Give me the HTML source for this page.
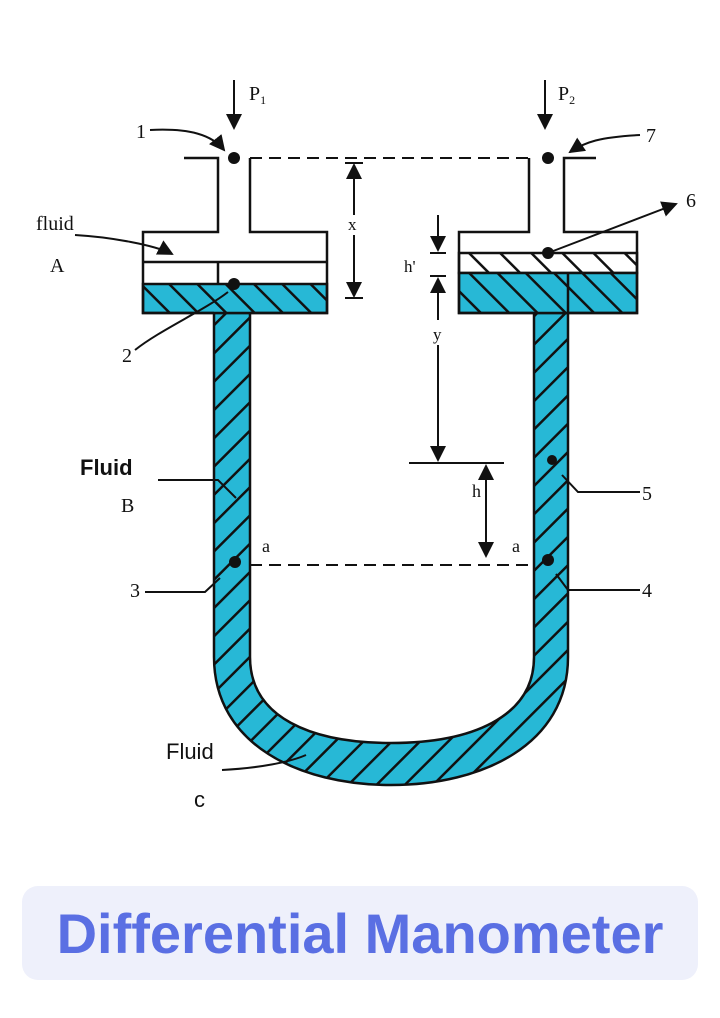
<!DOCTYPE html>
<html><head><meta charset="utf-8"><style>
html,body{margin:0;padding:0;background:#fff;}
body{width:720px;height:1018px;position:relative;overflow:hidden;}
svg{position:absolute;left:0;top:0;}
.t{position:absolute;left:22px;top:886px;width:676px;height:94px;background:#eef0fb;border-radius:16px;text-align:center;line-height:96px;font-family:"Liberation Sans",sans-serif;font-weight:bold;font-size:56px;color:#5a6fe3;}
</style></head><body>
<svg width="720" height="1018" viewBox="0 0 720 1018" font-family="Liberation Serif, serif">
<defs>
<pattern id="hb" patternUnits="userSpaceOnUse" width="20" height="20" patternTransform="rotate(-45)">
<rect width="20" height="20" fill="#27b8d6"/><rect x="0" y="0" width="20" height="2.5" fill="#111"/></pattern>
<pattern id="hf" patternUnits="userSpaceOnUse" width="20" height="20" patternTransform="rotate(45)">
<rect width="20" height="20" fill="#27b8d6"/><rect x="0" y="0" width="20" height="2.5" fill="#111"/></pattern>
<pattern id="hw" patternUnits="userSpaceOnUse" width="22" height="22" patternTransform="rotate(45)">
<rect width="22" height="22" fill="#fff"/><rect x="0" y="0" width="22" height="2.5" fill="#111"/></pattern>
<marker id="ar" markerWidth="8" markerHeight="8" refX="7" refY="4" orient="auto"><path d="M0,0 L8,4 L0,8 Z" fill="#111"/></marker>
<marker id="as" markerWidth="8" markerHeight="8" refX="1" refY="4" orient="auto"><path d="M8,0 L0,4 L8,8 Z" fill="#111"/></marker>
</defs>
<g stroke="#111" stroke-width="2.5" fill="none">
<path d="M214,313 L214,657 C214,745 300,785 391,785 C482,785 568,745 568,657 L568,313 L534,313 L534,657 C534,718 470,743 391,743 C312,743 250,718 250,657 L250,313 Z" fill="url(#hb)"/>
<rect x="143" y="284" width="184" height="29" fill="url(#hf)"/>
<path d="M184,158 H218 V232 H143 V313 H214 M250,313 H327 V232 H250 V158"/>
<line x1="143" y1="262" x2="327" y2="262"/>
<line x1="218" y1="262" x2="218" y2="284"/>
<rect x="459" y="253" width="178" height="20" fill="url(#hw)"/>
<rect x="459" y="273" width="178" height="40" fill="url(#hf)"/>
<path d="M596,158 H564 V232 H637 V313 H568 M534,313 H459 V232 H529 V158"/>
<line x1="568" y1="273" x2="568" y2="313"/>
<line x1="250" y1="158" x2="529" y2="158" stroke-dasharray="12,7" stroke-width="2"/>
<line x1="250" y1="565" x2="534" y2="565" stroke-dasharray="12,7" stroke-width="2"/>
<line x1="234" y1="80" x2="234" y2="128" marker-end="url(#ar)" stroke-width="2"/>
<line x1="545" y1="80" x2="545" y2="128" marker-end="url(#ar)" stroke-width="2"/>
<line x1="354" y1="165" x2="354" y2="215" marker-start="url(#as)" stroke-width="2"/>
<line x1="354" y1="235" x2="354" y2="296" marker-end="url(#ar)" stroke-width="2"/>
<line x1="345" y1="163" x2="363" y2="163" stroke-width="2"/>
<line x1="345" y1="298" x2="363" y2="298" stroke-width="2"/>
<line x1="438" y1="215" x2="438" y2="250" marker-end="url(#ar)" stroke-width="2"/>
<line x1="430" y1="253" x2="446" y2="253" stroke-width="2"/>
<line x1="430" y1="276" x2="446" y2="276" stroke-width="2"/>
<line x1="438" y1="279" x2="438" y2="320" marker-start="url(#as)" stroke-width="2"/>
<line x1="438" y1="345" x2="438" y2="460" marker-end="url(#ar)" stroke-width="2"/>
<line x1="409" y1="463" x2="504" y2="463" stroke-width="2"/>
<line x1="486" y1="466" x2="486" y2="556" marker-start="url(#as)" marker-end="url(#ar)" stroke-width="2"/>
<path d="M150,130 C190,128 212,135 224,150" marker-end="url(#ar)" stroke-width="2"/>
<path d="M640,135 C600,137 585,142 570,152" marker-end="url(#ar)" stroke-width="2"/>
<path d="M548,253 L676,204" marker-end="url(#ar)" stroke-width="2"/>
<path d="M75,235 C110,237 155,245 172,254" marker-end="url(#ar)" stroke-width="2"/>
<path d="M135,350 C160,330 205,310 228,292" stroke-width="2"/>
<path d="M158,480 H218 L236,498" stroke-width="2"/>
<path d="M145,592 H205 L220,578" stroke-width="2"/>
<path d="M640,590 H568 L556,574" stroke-width="2"/>
<path d="M640,492 H578 L562,475" stroke-width="2"/>
<path d="M222,770 C260,768 290,762 306,755" stroke-width="2"/>
</g>
<g fill="#111">
<circle cx="234" cy="158" r="6"/><circle cx="548" cy="158" r="6"/>
<circle cx="548" cy="253" r="6"/><circle cx="234" cy="284" r="6"/>
<circle cx="235" cy="562" r="6"/><circle cx="548" cy="560" r="6"/>
<circle cx="552" cy="460" r="5"/>
</g>
<g font-size="20" fill="#111">
<text x="249" y="100">P<tspan font-size="12" dy="4">1</tspan></text>
<text x="558" y="100">P<tspan font-size="12" dy="4">2</tspan></text>
<text x="136" y="138">1</text>
<text x="646" y="142">7</text>
<text x="686" y="207">6</text>
<text x="36" y="230">fluid</text>
<text x="50" y="272">A</text>
<text x="122" y="362">2</text>
<text x="348" y="230" font-size="17">x</text>
<text x="404" y="272" font-size="17">h'</text>
<text x="433" y="340" font-size="17">y</text>
<text x="472" y="497" font-size="18">h</text>
<text x="262" y="552" font-size="18">a</text>
<text x="512" y="552" font-size="18">a</text>
<text x="121" y="512">B</text>
<text x="130" y="597">3</text>
<text x="642" y="597">4</text>
<text x="642" y="500">5</text>
</g>
<text x="80" y="475" font-family="Liberation Sans, sans-serif" font-weight="bold" font-size="22" fill="#111">Fluid</text>
<text x="166" y="759" font-family="Liberation Sans, sans-serif" font-size="22" fill="#111">Fluid</text>
<text x="194" y="807" font-family="Liberation Sans, sans-serif" font-size="22" fill="#111">c</text>
</svg>
<div class="t">Differential Manometer</div>
</body></html>
